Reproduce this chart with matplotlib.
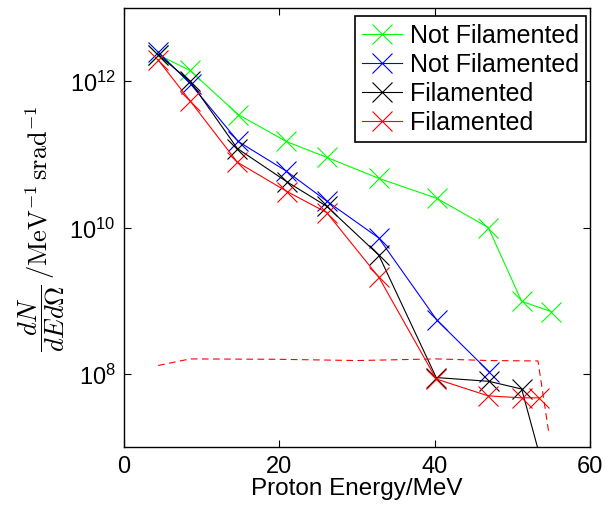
import matplotlib
matplotlib.use("Agg")
import matplotlib.pyplot as plt

# data ----------------------------------------------------
green_x = [4.4, 8.5, 14.7, 20.9, 26.1, 32.8, 40.3, 46.9, 51.2, 55.0]
green_y = [2.3e12, 1.4e12, 3.5e11, 1.5e11, 9.1e10, 4.7e10, 2.5e10, 1.0e10, 9.8e8, 7.1e8]

blue_x = [4.4, 8.6, 14.7, 20.9, 26.1, 32.8, 40.3, 47.0]
blue_y = [2.5e12, 9.1e11, 1.5e11, 5.9e10, 2.3e10, 7.2e9, 5.4e8, 1.07e8]

black_x = [4.4, 8.5, 14.6, 21.0, 26.1, 32.8, 40.2, 47.0, 51.2, 53.8]
black_y = [2.3e12, 1.0e12, 1.2e11, 4.2e10, 1.95e10, 4.2e9, 8.9e7, 7.9e7, 6.2e7, 6.0e6]

red_x = [4.4, 8.5, 14.6, 21.0, 26.1, 32.8, 40.2, 46.9, 51.2, 53.4]
red_y = [1.95e12, 5.4e11, 7.8e10, 3.1e10, 1.6e10, 2.1e9, 8.5e7, 5.0e7, 4.7e7, 4.7e7]

noise_x = [4.4, 8.5, 20.0, 30.0, 40.3, 46.9, 53.3, 54.7]
noise_y = [1.3e8, 1.6e8, 1.58e8, 1.52e8, 1.6e8, 1.52e8, 1.5e8, 1.55e7]

labels = ["Not Filamented", "Not Filamented", "Filamented", "Filamented"]

plt.rcParams["font.family"] = ["Liberation Sans", "DejaVu Sans"]
plt.rcParams["mathtext.fontset"] = "cm"

fig = plt.figure(figsize=(6.06, 5.06), dpi=100)
ax = fig.add_axes([0.2046, 0.1146, 0.769, 0.8676])

mk = dict(marker="x", markersize=15, linewidth=0.8, markeredgewidth=0.8)
ax.plot(green_x, green_y, color=(0, 1, 0), label=labels[0], **mk)
ax.plot(blue_x, blue_y, color=(0, 0, 1), label=labels[1], **mk)
ax.plot(black_x, black_y, color="k", label=labels[2], **mk)
ax.plot(red_x, red_y, color=(1, 0, 0), label=labels[3], **mk)
ax.plot(noise_x, noise_y, color=(1, 0, 0), linestyle="--", linewidth=0.8, dashes=(6, 4))

ax.set_yscale("log")
ax.set_xlim(0, 60)
ax.set_ylim(1e7, 1e13)
ax.set_xticks([0, 20, 40, 60])
ax.set_yticks([1e8, 1e10, 1e12])
ax.minorticks_off()
ax.tick_params(direction="in", top=True, right=True, labelsize=17, length=5, width=0.8, pad=6)
for s in ax.spines.values():
    s.set_linewidth(1.0)

ax.set_xlabel("Proton Energy/MeV", fontsize=17.5, labelpad=0)
ax.set_ylabel(r"$\dfrac{dN}{dEd\Omega}\,/\mathrm{MeV}^{-1}\,\mathrm{srad}^{-1}$", fontsize=19, labelpad=2)

leg = ax.legend(loc="upper right", bbox_to_anchor=(0.992, 0.982), fontsize=18,
                fancybox=False, edgecolor="k", framealpha=1, handlelength=1.6,
                handletextpad=0.3, labelspacing=0.2, borderpad=0.3, borderaxespad=0)
leg.get_frame().set_linewidth(1.2)

fig.savefig("out.png", dpi=100)
